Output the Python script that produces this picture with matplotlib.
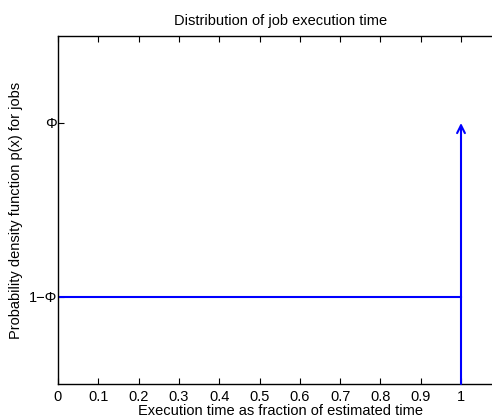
import matplotlib
matplotlib.use("Agg")
import matplotlib.pyplot as plt

plt.rcParams['font.family'] = ['Liberation Sans', 'DejaVu Sans']

# data
phi = 0.75
x_flat = [0, 1]
y_flat = [1 - phi, 1 - phi]
x_spike = 1
y_spike = phi
xticks = [0, 0.1, 0.2, 0.3, 0.4, 0.5, 0.6, 0.7, 0.8, 0.9, 1]
xticklabels = ['0', '0.1', '0.2', '0.3', '0.4', '0.5', '0.6', '0.7', '0.8', '0.9', '1']
yticks = [1 - phi, phi]
yticklabels = ['1\u2212\u03a6', '\u03a6']

fig = plt.figure(figsize=(4.92, 4.17), dpi=100)
ax = fig.add_axes([58 / 492, 33 / 417, 446 / 492, 348 / 417])

ax.plot(x_flat, y_flat, color='#0000ff', lw=1.5)
ax.annotate('', xy=(x_spike, y_spike), xytext=(x_spike, 0),
            arrowprops=dict(arrowstyle='->', color='#0000ff', lw=1.5,
                            shrinkA=0, shrinkB=0, mutation_scale=14))

ax.set_xlim(0, 446 / 403)
ax.set_ylim(0, 1)
ax.set_xticks(xticks)
ax.set_xticklabels(xticklabels)
ax.set_yticks(yticks)
ax.set_yticklabels(yticklabels)
ax.tick_params(direction='in', length=4, labelsize=10.5, top=True, right=True)
ax.tick_params(axis='x', pad=4)
ax.tick_params(axis='y', pad=0.5)
for s in ax.spines.values():
    s.set_linewidth(1.0)

ax.set_title('Distribution of job execution time', fontsize=10.5, pad=8)
ax.set_xlabel('Execution time as fraction of estimated time', fontsize=10.5, labelpad=0.5)
ax.set_ylabel('Probability density function p(x) for jobs', fontsize=10.5, labelpad=4)

fig.savefig('out.png', dpi=100)
